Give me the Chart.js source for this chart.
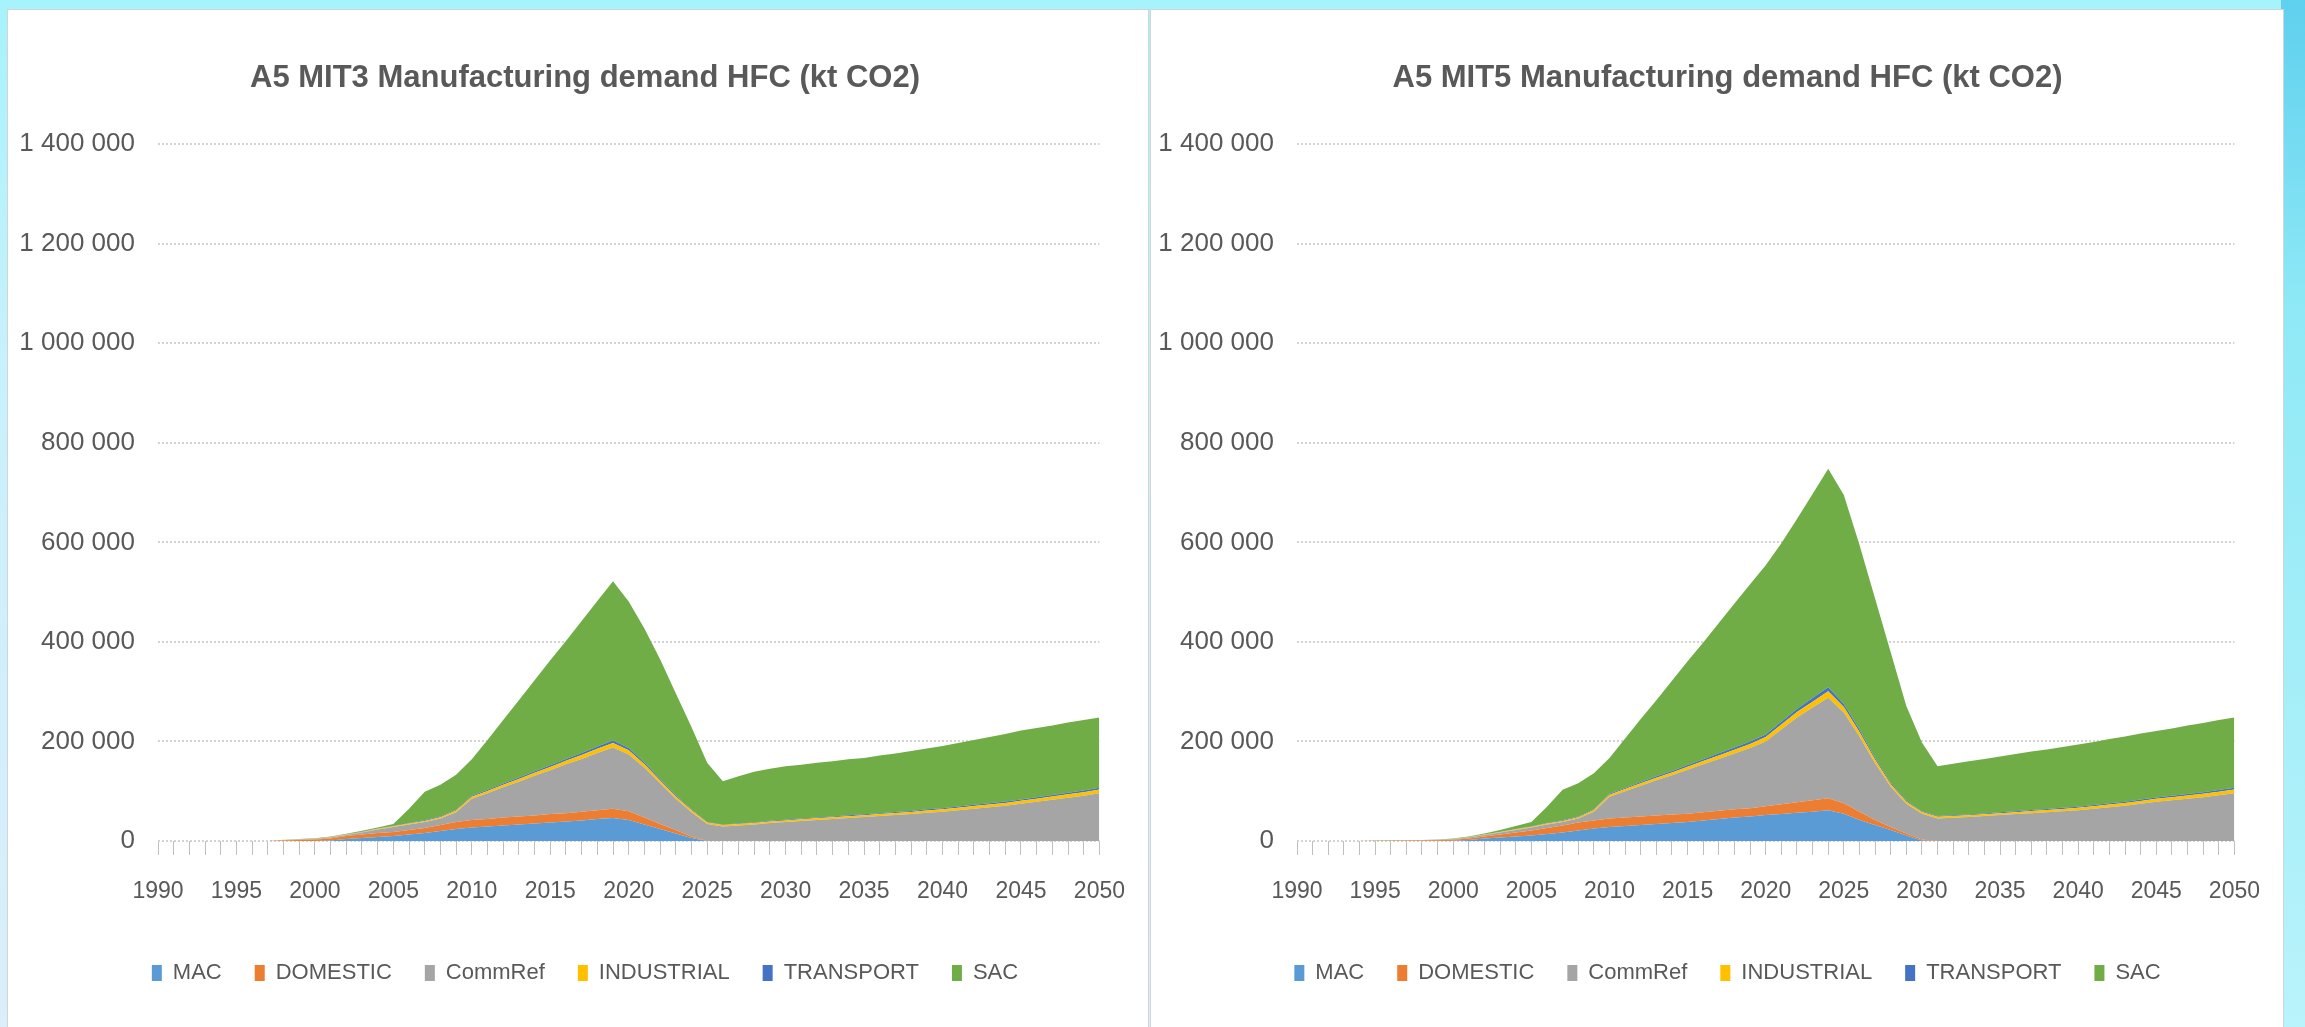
<!DOCTYPE html>
<html>
<head>
<meta charset="utf-8">
<title>A5 Manufacturing demand HFC (kt CO2)</title>
<script src="https://cdn.jsdelivr.net/npm/chart.js@4.4.1/dist/chart.umd.min.js"></script>
<style>
  html, body { margin: 0; padding: 0; }
  body {
    width: 2305px; height: 1027px; overflow: hidden; position: relative;
    background: linear-gradient(180deg, #a6f3fb 0%, #c8f1fb 35%, #dcedfb 100%);
  }
  .edge-right {
    position: absolute; right: 0; top: 0; width: 24px; height: 1027px;
    background: linear-gradient(180deg, #5fd0ee 0%, #8fe9f6 30%, #b9f3fb 100%);
  }
  .panel { position: absolute; top: 10px; height: 1017px; background: #fff; box-shadow: 0 0 0 1px #cfd6d9; }
  #left-panel { left: 8px; width: 1140px; }
  #right-panel { left: 1151px; width: 1132px; }
  canvas { display: block; }
</style>
</head>
<body>
<div class="edge-right"></div>
<div class="panel" id="left-panel"><canvas id="chart-mit3" width="1140" height="1017"></canvas></div>
<div class="panel" id="right-panel"><canvas id="chart-mit5" width="1132" height="1017"></canvas></div>

<script>
const years = ['1990','1991','1992','1993','1994','1995','1996','1997','1998','1999',
    '2000','2001','2002','2003','2004','2005','2006','2007','2008','2009',
    '2010','2011','2012','2013','2014','2015','2016','2017','2018','2019',
    '2020','2021','2022','2023','2024','2025','2026','2027','2028','2029',
    '2030','2031','2032','2033','2034','2035','2036','2037','2038','2039',
    '2040','2041','2042','2043','2044','2045','2046','2047','2048','2049','2050'];

const seriesNames = ['MAC', 'DOMESTIC', 'CommRef', 'INDUSTRIAL', 'TRANSPORT', 'SAC'];
const seriesColors = ['#5b9bd5', '#ed7d31', '#a5a5a5', '#ffc000', '#4472c4', '#70ad47'];

// MIT3 scenario (kt CO2), 1990..2050
const mit3Mac = [0,0,0,0,0,0,0,0,0,0,
    0,1000,4000,6000,8000,10000,13000,16000,20000,24000,
    27000,29000,31000,33000,35000,37000,39000,41000,44000,46000,
    42000,33000,24000,15000,6000,0,0,0,0,0,
    0,0,0,0,0,0,0,0,0,0,
    0,0,0,0,0,0,0,0,0,0,0];
const mit3Domestic = [0,0,0,0,0,0,0,0,1000,2000,
    3000,4000,6000,7000,8000,8000,9000,10000,12000,14000,
    15000,15000,16000,16000,16000,17000,17000,18000,18000,19000,
    18000,14000,10000,7000,3000,0,0,0,0,0,
    0,0,0,0,0,0,0,0,0,0,
    0,0,0,0,0,0,0,0,0,0,0];
const mit3CommRef = [0,0,0,0,0,0,0,0,1000,1000,
    1000,2000,2000,4000,7000,10000,11000,12000,13000,20000,
    43000,52000,61000,70000,80000,88000,98000,106000,115000,123000,
    114000,100000,82000,63000,49000,34000,29000,31000,33000,36000,
    38000,40000,42000,44000,46000,48000,50000,52000,54000,57000,
    59000,62000,65000,68000,71000,75000,79000,83000,87000,91000,96000];
const mit3Industrial = [0,0,0,0,0,0,0,0,300,500,
    700,900,1100,1300,1500,1800,2100,2400,2800,3200,
    4000,4500,5000,5500,6000,6500,7000,7600,8200,9000,
    8200,7000,5800,4600,3600,3000,3000,3100,3200,3300,
    3400,3500,3600,3700,3800,3900,4000,4100,4300,4500,
    4700,4900,5100,5300,5500,5800,6100,6400,6800,7100,7500];
const mit3Transport = [0,0,0,0,0,0,0,0,100,200,
    300,400,500,600,700,800,1000,1200,1400,1700,
    2000,2300,2600,2900,3200,3500,3800,4100,4500,5000,
    4500,3800,3000,2300,1600,1000,1000,1100,1200,1300,
    1400,1500,1600,1600,1700,1800,1900,2000,2100,2200,
    2300,2400,2500,2600,2700,2800,2900,3000,3200,3300,3500];
const mit3Sac = [0,0,0,0,0,0,0,0,200,300,
    500,800,1000,1500,2000,3400,28900,57400,63800,70100,
    73000,100200,127400,155600,182800,211000,237200,265300,292300,320000,
    294300,269200,240200,205100,165800,119000,87000,94800,101600,104400,
    107200,108000,109800,110700,112500,113300,116100,117900,120600,122300,
    125000,127700,130400,133100,135800,138400,139000,139600,141000,141600,141000];

// MIT5 scenario (kt CO2), 1990..2050
const mit5Mac = [0,0,0,0,0,0,0,0,0,0,
    500,2000,5000,7000,9000,11000,14000,17000,21000,25000,
    28000,30000,32000,34000,36000,38000,41000,44000,47000,49000,
    52000,54000,57000,59000,62000,55000,42000,32000,22000,11000,
    1000,0,0,0,0,0,0,0,0,0,
    0,0,0,0,0,0,0,0,0,0,0];
const mit5Domestic = [0,0,0,0,0,500,700,900,1100,1400,
    2000,3000,4000,6000,8000,10000,12000,14000,16000,16000,
    17000,17000,17000,17000,17000,17000,17000,17000,17000,17000,
    18000,20000,21000,23000,24000,21000,17000,10000,6000,4000,
    2000,0,0,0,0,0,0,0,0,0,
    0,0,0,0,0,0,0,0,0,0,0];
const mit5CommRef = [0,0,0,0,0,300,400,500,700,900,
    1000,2000,3000,4000,5000,6000,7000,7000,8000,18000,
    44000,53000,62000,71000,79000,88000,96000,104000,112000,121000,
    130000,150000,170000,186000,202000,182000,151000,114000,81000,60000,
    52000,45000,46500,48000,50000,52000,54000,56000,58000,60000,
    62000,65000,68000,71000,75000,79000,82000,85000,88000,92000,96000];
const mit5Industrial = [0,0,0,0,0,100,100,150,200,250,
    500,700,900,1100,1400,1800,2100,2400,2800,3200,
    4000,4400,4800,5200,5600,6000,6500,7000,7500,8000,
    9000,10000,11000,12000,13000,11000,9000,7000,5000,4000,
    3400,3500,3600,3700,3800,3900,4000,4100,4300,4500,
    4700,4900,5100,5300,5500,5800,6100,6400,6800,7100,7500];
const mit5Transport = [0,0,0,0,0,0,0,0,100,100,
    200,300,400,500,600,800,1000,1200,1400,1700,
    2000,2300,2600,2900,3200,3500,3800,4100,4400,4700,
    5000,5700,6400,7200,8000,6500,5000,4000,3000,2000,
    1500,1500,1600,1600,1700,1800,1900,2000,2100,2200,
    2300,2400,2500,2600,2700,2800,2900,3000,3200,3300,3500];
const mit5Sac = [0,0,0,0,0,100,100,150,100,150,
    800,1000,1700,3400,6000,8400,32900,61400,66800,72100,
    72000,99300,126600,152900,181200,208500,234700,261900,289100,316300,
    340000,358300,381600,409800,439000,419500,371000,320000,262000,190000,
    138100,100000,103300,106700,109500,112300,115100,117900,119600,122300,
    125000,126700,129400,131100,132800,133400,135000,137600,139000,140600,141000];

const fontFamily = "'Liberation Sans', Arial, sans-serif";
const textColor = '#595959';

Chart.defaults.font.family = fontFamily;

function formatThousands(v) {
    return String(v).replace(/\B(?=(\d{3})+(?!\d))/g, ' ');
}

function buildDatasets(values) {
    return values.map((data, i) => ({
        label: seriesNames[i],
        data: data,
        backgroundColor: seriesColors[i],
        borderColor: seriesColors[i],
        borderWidth: 0,
        pointRadius: 0,
        pointHoverRadius: 0,
        tension: 0,
        fill: i === 0 ? 'origin' : '-1'
    }));
}

function makeChart(canvasId, title, values, padLeft, padRight, yWidth) {
    const ctx = document.getElementById(canvasId);
    return new Chart(ctx, {
        type: 'line',
        data: {
            labels: years,
            datasets: buildDatasets(values)
        },
        options: {
            responsive: false,
            animation: false,
            layout: { padding: { left: padLeft, right: padRight, top: 0, bottom: 33 } },
            plugins: {
                title: {
                    display: true,
                    text: title,
                    color: textColor,
                    font: { size: 31, weight: 'bold' },
                    padding: { top: 50, bottom: 47 }
                },
                legend: {
                    position: 'bottom',
                    labels: {
                        color: textColor,
                        font: { size: 22 },
                        boxWidth: 10,
                        boxHeight: 16,
                        padding: 33
                    }
                },
                tooltip: { enabled: false }
            },
            scales: {
                x: {
                    type: 'category',
                    offset: false,
                    grid: { drawOnChartArea: false, drawTicks: true, tickLength: 14, color: '#bfbfbf' },
                    border: { display: false },
                    ticks: {
                        autoSkip: false,
                        maxRotation: 0,
                        minRotation: 0,
                        padding: 23,
                        color: textColor,
                        font: { size: 23 },
                        callback: function (value, index) {
                            const y = years[index];
                            return Number(y) % 5 === 0 ? y : '';
                        }
                    },
                    afterFit: function (scale) { scale.height = 88; }
                },
                y: {
                    stacked: true,
                    min: 0,
                    max: 1400000,
                    grid: { color: '#d3d3d3', lineWidth: 2, drawTicks: false },
                    border: { display: false, dash: [2, 2] },
                    ticks: {
                        stepSize: 200000,
                        padding: 23,
                        color: textColor,
                        font: { size: 26 },
                        callback: formatThousands
                    },
                    afterFit: function (scale) {
                        scale.width = yWidth;
                        // labels are wider than the axis box; don't clip them to it
                        scale._computeLabelArea = function () { return undefined; };
                    }
                }
            }
        }
    });
}

makeChart('chart-mit3', 'A5 MIT3 Manufacturing demand HFC (kt CO2)',
    [mit3Mac, mit3Domestic, mit3CommRef, mit3Industrial, mit3Transport, mit3Sac], 62, 48, 88);
makeChart('chart-mit5', 'A5 MIT5 Manufacturing demand HFC (kt CO2)',
    [mit5Mac, mit5Domestic, mit5CommRef, mit5Industrial, mit5Transport, mit5Sac], 58, 37, 88);
</script>
</body>
</html>
